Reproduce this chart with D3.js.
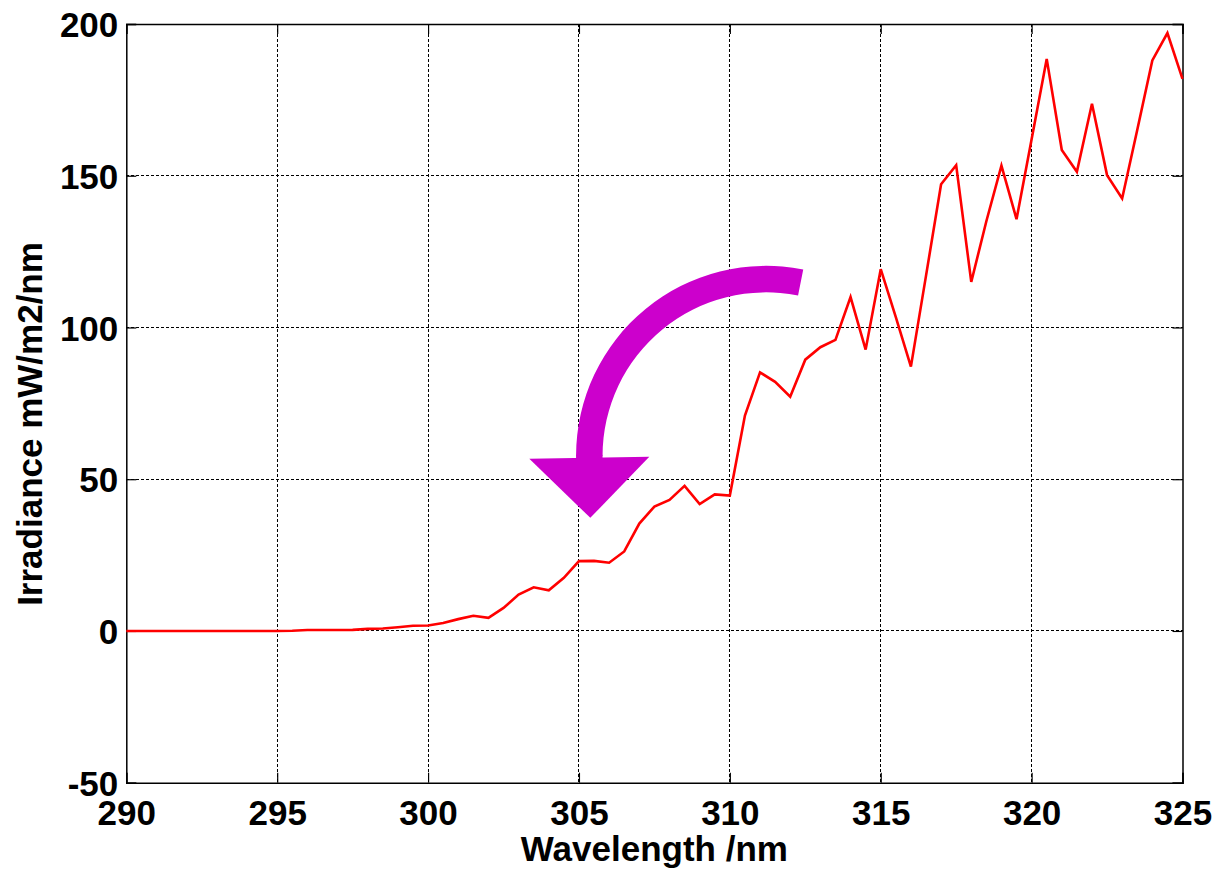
<!DOCTYPE html>
<html>
<head>
<meta charset="utf-8">
<script src="https://cdn.jsdelivr.net/npm/d3@7"></script>
<style>
  html, body { margin: 0; padding: 0; background: #fff; }
  svg text { font-family: "Liberation Sans", Arial, sans-serif; font-weight: bold; fill: #000; }
</style>
</head>
<body>
<svg id="chart" width="1218" height="870"></svg>
<script>
// Spectral UV irradiance, 0.5 nm steps
const wavelengths = d3.range(290, 325.001, 0.5);
const irradiance = [
  0, 0, 0, 0, 0, 0, 0, 0, 0, 0,            // 290 - 294.5
  0, 0.05, 0.3, 0.3, 0.3, 0.35, 0.7, 0.8, 1.2, 1.7, // 295 - 299.5
  1.8, 2.6, 3.9, 5.0, 4.3, 7.6, 12.0, 14.4, 13.4, 17.5, // 300 - 304.5
  23.0, 23.1, 22.5, 26.2, 35.4, 41.0, 43.2, 47.8, 41.8, 45.0, // 305 - 309.5
  44.6, 71.0, 85.2, 82.1, 77.2, 89.4, 93.5, 95.9, 110.0, 92.7, // 310 - 314.5
  119.2, 103.4, 87.1, 117.0, 147.2, 153.5, 115.0, 135.0, 153.3, 135.7, // 315 - 319.5
  162.0, 188.5, 158.5, 151.3, 173.7, 150.2, 142.5, 165.1, 188.0, 197.0, // 320 - 324.5
  181.9                                      // 325
];
const xTicks = [290, 295, 300, 305, 310, 315, 320, 325];
const yTicks = [-50, 0, 50, 100, 150, 200];
const xTitle = "Wavelength /nm";
const yTitle = "Irradiance mW/m2/nm";
// Curved arrow annotation, centre of its arc in data units
const arrowCentre = [311.2, 57.7];

const svg = d3.select("#chart");
const plot = { left: 126.3, right: 1182.5, top: 24, bottom: 782.7 };

const x = d3.scaleLinear().domain([290, 325]).range([plot.left, plot.right]);
const y = d3.scaleLinear().domain([-50, 200]).range([plot.bottom, plot.top]);

// dashed grid
const grid = svg.append("g").attr("stroke", "#000").attr("stroke-width", 1)
  .attr("stroke-dasharray", "3,2").attr("fill", "none")
  .attr("shape-rendering", "crispEdges");
grid.selectAll("line.gx").data(xTicks.slice(1, -1)).join("line")
  .attr("x1", d => x(d)).attr("x2", d => x(d))
  .attr("y1", plot.top).attr("y2", plot.bottom);
grid.selectAll("line.gy").data(yTicks.slice(1, -1)).join("line")
  .attr("x1", plot.left).attr("x2", plot.right)
  .attr("y1", d => y(d)).attr("y2", d => y(d));

// axes with inward ticks on all four sides
const tickLen = 10;
const fmt = d => String(d);
const axB = svg.append("g").attr("transform", `translate(0,${plot.bottom})`)
  .call(d3.axisBottom(x).tickValues(xTicks).tickSize(-tickLen).tickPadding(17).tickFormat(fmt));
const axT = svg.append("g").attr("transform", `translate(0,${plot.top})`)
  .call(d3.axisTop(x).tickValues(xTicks).tickSize(-tickLen).tickFormat(""));
const axL = svg.append("g").attr("transform", `translate(${plot.left},0)`)
  .call(d3.axisLeft(y).tickValues(yTicks).tickSize(-tickLen).tickPadding(8).tickFormat(fmt));
const axR = svg.append("g").attr("transform", `translate(${plot.right},0)`)
  .call(d3.axisRight(y).tickValues(yTicks).tickSize(-tickLen).tickFormat(""));

[axB, axT, axL, axR].forEach(a => {
  a.select(".domain").attr("stroke", "#000").attr("stroke-width", 1.5);
  a.selectAll(".tick line").attr("stroke", "#000").attr("stroke-width", 1.2);
  a.selectAll("text").attr("font-size", 35).attr("font-family", null).attr("fill", "#000");
});
axB.selectAll(".tick text").attr("dy", "0.71em");
axL.selectAll(".tick text").attr("dy", "0.36em");

// irradiance trace
const line = d3.line().x((d, i) => x(wavelengths[i])).y(d => y(d));
svg.append("path").datum(irradiance)
  .attr("d", line)
  .attr("fill", "none").attr("stroke", "#ff0000").attr("stroke-width", 2.6)
  .attr("stroke-linejoin", "miter");

// magenta curved arrow
const cx = x(arrowCentre[0]), cy = y(arrowCentre[1]);
const rIn = 163.5, rOut = 190;
const arrow = svg.append("g").attr("fill", "#cc00cc");
arrow.append("path")
  .attr("transform", `translate(${cx},${cy})`)
  .attr("d", d3.arc().innerRadius(rIn).outerRadius(rOut)
    .startAngle(-Math.PI / 2).endAngle(0.197)());
const shaftX = cx - (rIn + rOut) / 2;
arrow.append("path")
  .attr("d", `M${shaftX - 60},${cy + 3} L${shaftX + 60},${cy + 1} L${shaftX + 1},${cy + 62} Z`);
arrow.append("rect")
  .attr("x", cx - rOut).attr("y", cy - 1).attr("width", rOut - rIn).attr("height", 4);

// axis titles
svg.append("text").attr("x", (plot.left + plot.right) / 2).attr("y", 861)
  .attr("text-anchor", "middle").attr("font-size", 35).text(xTitle);
svg.append("text").attr("transform", "translate(42,424) rotate(-90)")
  .attr("text-anchor", "middle").attr("font-size", 35).text(yTitle);
</script>
</body>
</html>
